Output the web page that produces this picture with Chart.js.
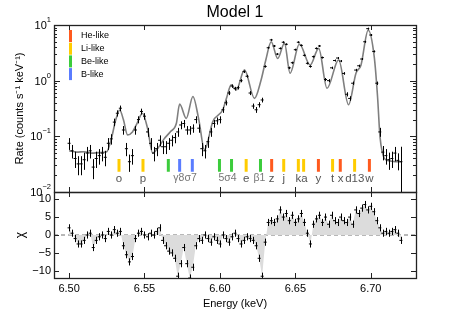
<!DOCTYPE html>
<html>
<head>
<meta charset="utf-8">
<script src="https://cdn.jsdelivr.net/npm/chart.js@4/dist/chart.umd.min.js"></script>
<style>
  body { margin: 0; background: #fff; }
  #wrap { position: relative; width: 454px; height: 317px; }
  .panel { position: absolute; left: 0; width: 454px; }
</style>
</head>
<body>
<div id="wrap">
  <div class="panel" style="top:0;height:200px"><canvas id="specChart"></canvas></div>
  <div class="panel" style="top:180px;height:137px"><canvas id="residChart"></canvas></div>
</div>
<script>
// === DATA === //
const energy = [
  6.500, 6.502, 6.504, 6.506, 6.508, 6.510, 6.512, 6.514, 6.516, 6.518,
  6.520, 6.522, 6.524, 6.526, 6.528, 6.530, 6.532, 6.534, 6.536, 6.538,
  6.540, 6.542, 6.544, 6.546, 6.548, 6.550, 6.552, 6.554, 6.556, 6.558,
  6.560, 6.562, 6.564, 6.566, 6.568, 6.570, 6.572, 6.574, 6.576, 6.578,
  6.580, 6.582, 6.584, 6.586, 6.588, 6.590, 6.592, 6.594, 6.596, 6.598,
  6.600, 6.602, 6.604, 6.606, 6.608, 6.610, 6.612, 6.614, 6.616, 6.618,
  6.620, 6.622, 6.624, 6.626, 6.628, 6.630, 6.632, 6.634, 6.636, 6.638,
  6.640, 6.642, 6.644, 6.646, 6.648, 6.650, 6.652, 6.654, 6.656, 6.658,
  6.660, 6.662, 6.664, 6.666, 6.668, 6.670, 6.672, 6.674, 6.676, 6.678,
  6.680, 6.682, 6.684, 6.686, 6.688, 6.690, 6.692, 6.694, 6.696, 6.698,
  6.700, 6.702, 6.704, 6.706, 6.708, 6.710, 6.712, 6.714, 6.716, 6.718,
  6.720
];
const rate = [
  0.075, 0.055, 0.040, 0.032, 0.032, 0.038, 0.050, 0.055, 0.028, 0.040,
  0.045, 0.050, 0.042, 0.075, 0.090, 0.18, 0.26, 0.32, 0.13, 0.060,
  0.035, 0.045, 0.13, 0.20, 0.28, 0.23, 0.12, 0.075, 0.050, 0.060,
  0.085, 0.065, 0.065, 0.075, 0.085, 0.095, 0.12, 0.16, 0.17, 0.13,
  0.13, 0.14, 0.20, 0.14, 0.060, 0.055, 0.080, 0.12, 0.17, 0.19,
  0.20, 0.30, 0.40, 0.60, 0.80, 0.72, 0.75, 1.00, 1.45, 1.20,
  0.60, 0.35, 0.30, 0.37, 0.45, 1.80, 3.9, 5.4, 4.2, 3.0,
  3.8, 4.9, 4.5, 1.7, 2.1, 3.6, 4.9, 4.3, 2.85, 2.05,
  1.8, 2.7, 3.8, 4.2, 2.6, 1.05, 1.0, 1.7, 2.3, 2.55,
  2.25, 1.35, 0.57, 0.48, 0.90, 1.55, 1.85, 2.45, 5.0, 8.6,
  6.6, 3.35, 0.90, 0.12, 0.052, 0.045, 0.038, 0.040, 0.050, 0.037,
  0.035
];
const rateErr = [
  0.018, 0.015, 0.013, 0.012, 0.012, 0.013, 0.0145, 0.015, 0.011, 0.013,
  0.014, 0.0145, 0.013, 0.018, 0.019, 0.028, 0.033, 0.037, 0.023, 0.016,
  0.012, 0.014, 0.023, 0.029, 0.034, 0.031, 0.022, 0.018, 0.0145, 0.016,
  0.019, 0.017, 0.017, 0.018, 0.019, 0.020, 0.022, 0.026, 0.027, 0.023,
  0.023, 0.024, 0.029, 0.024, 0.016, 0.015, 0.018, 0.022, 0.027, 0.028,
  0.029, 0.036, 0.041, 0.050, 0.058, 0.055, 0.056, 0.065, 0.078, 0.071,
  0.050, 0.038, 0.036, 0.040, 0.044, 0.087, 0.13, 0.15, 0.13, 0.11,
  0.13, 0.14, 0.14, 0.085, 0.094, 0.12, 0.14, 0.13, 0.11, 0.093,
  0.087, 0.11, 0.13, 0.13, 0.10, 0.067, 0.065, 0.085, 0.099, 0.10,
  0.098, 0.075, 0.049, 0.045, 0.062, 0.081, 0.088, 0.10, 0.145, 0.19,
  0.17, 0.12, 0.062, 0.022, 0.015, 0.014, 0.013, 0.013, 0.0145, 0.0125,
  0.030
];
const resid = [
  2.0, 0.5, -1.0, -2.5, -2.5, -1.5, 0.0, 0.5, -3.5, -1.5,
  -0.5, 0.0, -1.0, 1.0, 0.0, 1.5, 0.5, 1.0, -3.0, -5.5,
  -7.5, -6.0, -1.0, 0.5, 1.0, 0.0, -0.5, 0.5, 0.0, 1.0,
  2.0, -1.5, -3.0, -4.5, -5.0, -6.5, -11.5, -8.0, -3.5, -8.0,
  -12.0, -9.0, -3.0, -1.0, -1.5, 0.0, -1.0, -2.0, -0.5, -1.5,
  -2.5, 0.0, -1.0, -2.0, -0.5, 0.5, -1.0, -2.5, -1.5, -0.5,
  -1.0, -1.5, -3.0, -6.5, -11.5, -2.0, 3.5, 4.0, 3.5, 4.5,
  7.0, 5.0, 6.0, 4.0, 5.5, 3.5, 4.5, 6.0, 3.5, 0.5,
  -2.5, 3.0, 4.5, 5.5, 3.5, 5.0, 3.0, 5.5, 4.0, 3.5,
  5.0, 4.0, 3.5, 5.0, 3.0, 7.0, 6.0, 7.5, 8.5, 7.0,
  8.0, 6.5, 4.0, 2.0, 0.5, 1.0, 0.5, 1.0, 1.5, 0.5,
  -1.5
];
const modelE = [
  6.500, 6.505, 6.510, 6.515, 6.520, 6.525, 6.528, 6.531, 6.5336, 6.536,
  6.5388, 6.542, 6.545, 6.5486, 6.552, 6.5554, 6.559, 6.563, 6.567, 6.5711,
  6.5733, 6.5777, 6.5821, 6.586, 6.5898, 6.5953, 6.6019, 6.6045, 6.6075, 6.6108,
  6.6163, 6.6229, 6.6273, 6.6305, 6.6340, 6.6383, 6.6428, 6.6465, 6.6527, 6.6598,
  6.6655, 6.6710, 6.6787, 6.6853, 6.6902, 6.6935, 6.6983, 6.7023, 6.7045, 6.7061,
  6.7078, 6.7100, 6.7189, 6.7200
];
const modelRate = [
  0.055, 0.052, 0.053, 0.050, 0.051, 0.053, 0.09, 0.2, 0.298, 0.2,
  0.106, 0.12, 0.17, 0.26, 0.14, 0.05, 0.062, 0.09, 0.12, 0.17,
  0.38, 0.21, 0.52, 0.2, 0.057, 0.184, 0.30, 0.5, 0.84, 0.68,
  1.56, 0.48, 1.03, 2.4, 5.0, 2.5, 4.7, 1.36, 4.56, 1.9,
  3.8, 0.73, 2.36, 0.37, 1.36, 1.9, 8.1, 2.7, 0.52, 0.1,
  0.05, 0.038, 0.035, 0.035
];

const xTicks = [6.50, 6.55, 6.60, 6.65, 6.70];
const rateTicks = [0.01, 0.1, 1, 10];
const rateTickExp = ['−2', '−1', '0', '1'];
const residTicks = [-10, -5, 0, 5, 10];

const ionNames = ['He-like', 'Li-like', 'Be-like', 'B-like'];
const ionColors = ['#ff5a1e', '#ffcc00', '#3ccc3c', '#5a7cff'];
const heLines = [6.6343, 6.6653, 6.6798, 6.6991];
const liLines = [6.5331, 6.5490, 6.6174, 6.6423, 6.6520, 6.6555, 6.6747, 6.6893];
const beLines = [6.5658, 6.5997, 6.6077, 6.6269];
const bLines = [6.5733, 6.5817];
const lineLabels = ['o', 'p', 'γ8σ7', '5σ4', 'e', 'β1', 'z', 'j', 'k', 'a', 'y', 't', 'x', 'd13', 'w'];
const lineLabelE = [6.5331, 6.5490, 6.5769, 6.6050, 6.6174, 6.6262, 6.6343, 6.6423, 6.6520, 6.6560, 6.6653, 6.6747, 6.6801, 6.6894, 6.6991];

const FONT = "'Liberation Sans', Arial, sans-serif";
const BIN = 0.001;

// === HELPERS === //
const pts = (xs, ys) => xs.map((x, i) => ({ x, y: ys[i] }));
const markerSegs = (lines) => lines.flatMap((e) => [{ x: e, y: 0.0232 }, { x: e, y: 0.0392 }, { x: e, y: null }]);

const errorBars = {
  id: 'errorBars',
  afterDatasetsDraw(chart) {
    const { ctx, chartArea: a } = chart;
    const xs = chart.scales.x;
    ctx.save();
    ctx.beginPath();
    ctx.rect(a.left, a.top, a.width, a.height);
    ctx.clip();
    ctx.strokeStyle = '#000';
    ctx.lineWidth = 1;
    chart.data.datasets.forEach((ds) => {
      if (ds.errors === undefined) return;
      const ys = chart.scales[ds.yAxisID || 'y'];
      ds.data.forEach((p, i) => {
        const e = Array.isArray(ds.errors) ? ds.errors[i] : ds.errors;
        const px = Math.round(xs.getPixelForValue(p.x)) + 0.5;
        const py = ys.getPixelForValue(p.y);
        let hi = ys.getPixelForValue(p.y + e);
        let lo = (ys.type === 'logarithmic' && p.y - e <= 0) ? a.bottom + 5 : ys.getPixelForValue(p.y - e);
        if (lo - hi < 2) { hi = py - 1; lo = py + 1; }
        const x0 = xs.getPixelForValue(p.x - BIN), x1 = xs.getPixelForValue(p.x + BIN);
        ctx.beginPath();
        ctx.moveTo(px, hi); ctx.lineTo(px, lo);
        ctx.moveTo(x0, py); ctx.lineTo(x1, py);
        ctx.stroke();
      });
    });
    ctx.restore();
  }
};

const frameTicks = {
  id: 'frameTicks',
  afterDraw(chart) {
    const { ctx, chartArea: a } = chart;
    const xs = chart.scales.x, ys = chart.scales.y;
    const seg = (x0, y0, x1, y1) => { ctx.moveTo(x0, y0); ctx.lineTo(x1, y1); };
    ctx.save();
    ctx.strokeStyle = '#222';
    ctx.lineWidth = 1;
    ctx.beginPath();
    xTicks.forEach((v) => {
      const px = Math.round(xs.getPixelForValue(v)) + 0.5;
      seg(px, a.top, px, a.top + 5);
      seg(px, a.bottom, px, a.bottom - 5);
    });
    if (ys.type === 'logarithmic') {
      for (let d = -2; d < 1; d++) {
        for (let m = 1; m < 10; m++) {
          const py = Math.round(ys.getPixelForValue(m * Math.pow(10, d))) + 0.5;
          const len = m === 1 ? 6 : 3;
          seg(a.left, py, a.left + len, py);
          seg(a.right, py, a.right - len, py);
        }
      }
    } else {
      residTicks.forEach((v) => {
        const py = Math.round(ys.getPixelForValue(v)) + 0.5;
        seg(a.left, py, a.left + 5, py);
        seg(a.right, py, a.right - 5, py);
      });
    }
    ctx.stroke();
    ctx.lineWidth = 1.3;
    ctx.strokeRect(Math.round(a.left) + 0.5, Math.round(a.top) + 0.5, Math.round(a.width), Math.round(a.height));
    ctx.restore();
  }
};

const specDecor = {
  id: 'specDecor',
  afterDraw(chart) {
    const { ctx, chartArea: a } = chart;
    const xs = chart.scales.x, ys = chart.scales.y;
    ctx.save();
    // title
    ctx.fillStyle = '#000';
    ctx.font = '16px ' + FONT;
    ctx.textAlign = 'center';
    ctx.textBaseline = 'middle';
    ctx.fillText('Model 1', (a.left + a.right) / 2, 13);
    // log tick labels
    rateTicks.forEach((v, i) => {
      const py = ys.getPixelForValue(v);
      ctx.textAlign = 'right';
      ctx.font = '7.5px ' + FONT;
      const ew = ctx.measureText(rateTickExp[i]).width;
      ctx.fillText(rateTickExp[i], a.left - 3, py - 5);
      ctx.font = '11px ' + FONT;
      ctx.fillText('10', a.left - 3 - ew, py + 1);
    });
    // legend
    ionNames.forEach((n, i) => {
      const y = a.top + 11 + i * 12.7;
      ctx.fillStyle = ionColors[i];
      ctx.fillRect(a.left + 15, y - 6, 3, 12);
      ctx.fillStyle = '#000';
      ctx.font = '9px ' + FONT;
      ctx.textAlign = 'left';
      ctx.fillText(n, a.left + 27, y);
    });
    // line IDs
    ctx.textAlign = 'center';
    lineLabels.forEach((t, i) => {
      const greek = /[γσβ]/.test(t);
      ctx.fillStyle = greek ? '#777' : '#555';
      ctx.font = (greek ? '10.5px ' : '11.5px ') + FONT;
      ctx.fillText(t, xs.getPixelForValue(lineLabelE[i]), ys.getPixelForValue(0.0176));
    });
    ctx.restore();
  }
};

const xScale = { type: 'linear', min: 6.49, max: 6.73 };

// === CHARTS === //
new Chart(document.getElementById('specChart'), {
  type: 'line',
  data: {
    datasets: [
      { data: pts(modelE, modelRate), borderColor: '#7f7f7f', borderWidth: 1.6, pointRadius: 0, cubicInterpolationMode: 'monotone' },
      { data: pts(energy, rate), errors: rateErr, showLine: false, pointRadius: 0 },
      { data: markerSegs(heLines), borderColor: ionColors[0], borderWidth: 3, pointRadius: 0, spanGaps: false },
      { data: markerSegs(liLines), borderColor: ionColors[1], borderWidth: 3, pointRadius: 0, spanGaps: false },
      { data: markerSegs(beLines), borderColor: ionColors[2], borderWidth: 3, pointRadius: 0, spanGaps: false },
      { data: markerSegs(bLines), borderColor: ionColors[3], borderWidth: 3, pointRadius: 0, spanGaps: false },
    ],
  },
  options: {
    responsive: true,
    maintainAspectRatio: false,
    animation: false,
    layout: { padding: { top: 25, right: 38, bottom: 8, left: 0 } },
    plugins: { legend: { display: false }, tooltip: { enabled: false } },
    scales: {
      x: { ...xScale, display: false },
      y: {
        type: 'logarithmic', min: 0.01, max: 10,
        afterFit: (s) => { s.width = 54; },
        ticks: { display: false },
        grid: { display: false },
        border: { display: false },
        title: { display: true, text: 'Rate (counts s⁻¹ keV⁻¹)', font: { size: 11, family: FONT }, color: '#000', padding: { top: 13 } },
      },
    },
  },
  plugins: [errorBars, frameTicks, specDecor],
});

new Chart(document.getElementById('residChart'), {
  type: 'line',
  data: {
    datasets: [
      { data: pts(energy, resid), errors: 1, borderWidth: 0, pointRadius: 0, fill: { value: 0 }, backgroundColor: '#dcdcdc' },
      { data: [{ x: 6.49, y: 0 }, { x: 6.73, y: 0 }], borderColor: '#707070', borderWidth: 1, borderDash: [4, 3], pointRadius: 0 },
    ],
  },
  options: {
    responsive: true,
    maintainAspectRatio: false,
    animation: false,
    layout: { padding: { top: 12, right: 38, bottom: 0, left: 0 } },
    plugins: { legend: { display: false }, tooltip: { enabled: false } },
    scales: {
      x: {
        ...xScale,
        afterBuildTicks: (s) => { s.ticks = xTicks.map((v) => ({ value: v })); },
        afterFit: (s) => { s.height = 39; },
        ticks: { callback: (v) => v.toFixed(2), font: { size: 11, family: FONT }, color: '#000', padding: 4, maxRotation: 0 },
        grid: { display: false, drawTicks: false },
        border: { display: false },
        title: { display: true, text: 'Energy (keV)', font: { size: 11, family: FONT }, color: '#000', padding: { top: 0, bottom: 6 } },
      },
      y: {
        type: 'linear', min: -12, max: 12,
        afterBuildTicks: (s) => { s.ticks = residTicks.map((v) => ({ value: v })); },
        afterFit: (s) => { s.width = 54; },
        ticks: { callback: (v) => String(v).replace('-', '−'), font: { size: 11, family: FONT }, color: '#000', padding: 3 },
        grid: { display: false, drawTicks: false },
        border: { display: false },
        title: { display: true, text: 'χ', font: { size: 12, family: FONT }, color: '#000', padding: { top: 13 } },
      },
    },
  },
  plugins: [errorBars, frameTicks],
});
</script>
</body>
</html>
